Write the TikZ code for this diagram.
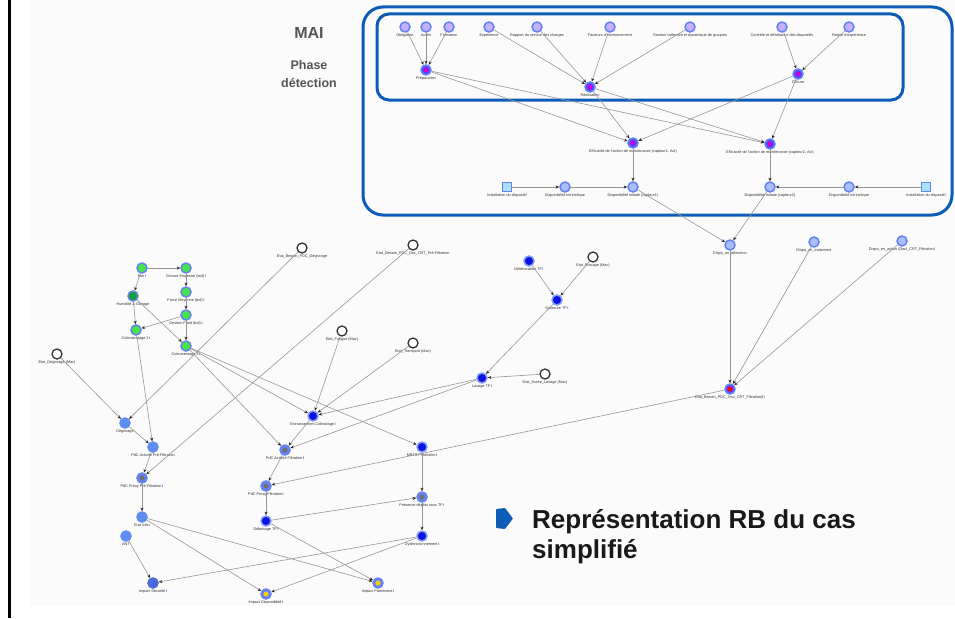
\documentclass[tikz,border=0pt]{standalone}
\usepackage{fontspec}
\setmainfont{Liberation Sans}
\usetikzlibrary{arrows.meta,shapes.geometric}
\definecolor{boxblue}{RGB}{12,92,184}
\definecolor{ringblue}{RGB}{100,130,240}
\definecolor{lavender}{RGB}{196,176,255}
\definecolor{paleblue}{RGB}{170,190,250}
\definecolor{midblue}{RGB}{95,140,240}
\definecolor{deepblue}{RGB}{10,20,225}
\definecolor{secblue}{RGB}{75,105,215}
\definecolor{edgegrey}{RGB}{150,150,150}
\definecolor{labgrey}{RGB}{85,85,85}
\definecolor{greenfill}{RGB}{70,230,70}
\definecolor{darkgreen}{RGB}{20,160,50}
\definecolor{cyanfill}{RGB}{170,225,250}
\definecolor{magfill}{RGB}{200,0,220}
\definecolor{yellowfill}{RGB}{245,205,0}
\definecolor{bgpale}{RGB}{251,251,251}
\definecolor{infoblue}{RGB}{60,90,230}
\newcommand{\infomark}{\,\textcolor{infoblue}{\fontsize{4}{4}\selectfont\bfseries i}}
\tikzset{
  lbl/.style={font=\fontsize{3.8}{4.2}\selectfont, text=black!80, inner sep=0.6pt},
  nd/.style={circle, minimum size=10pt, inner sep=0pt, line width=1.5pt, draw=ringblue},
  lav/.style={nd, fill=lavender},
  pale/.style={nd, fill=paleblue},
  core/.style={path picture={\fill[#1] (path picture bounding box.center) circle (2.6pt);}},
  purp/.style={nd, fill=blue!70, core=magfill},
  redn/.style={nd, fill=blue!70, core=red},
  grn/.style={nd, fill=greenfill},
  dgrn/.style={nd, fill=darkgreen},
  opn/.style={circle, minimum size=10pt, inner sep=0pt, line width=1.3pt, draw=black!80, fill=white},
  dblue/.style={nd, draw=ringblue!80, fill=deepblue},
  solid/.style={nd, draw=midblue, fill=midblue},
  secn/.style={nd, draw=secblue, fill=secblue},
  greyc/.style={nd, fill=ringblue, core=black!55},
  yelc/.style={nd, fill=ringblue, core=yellowfill},
  sqn/.style={rectangle, minimum size=9pt, inner sep=0pt, line width=1pt, draw=ringblue, fill=cyanfill},
  conn/.style={draw=edgegrey, line width=0.6pt, -{Stealth[length=3.6pt,width=3pt,color=black!85]}},
  title/.style={font=\bfseries\fontsize{16}{18}\selectfont, text=labgrey, align=center},
}
\begin{document}
\begin{tikzpicture}[x=1pt,y=-1pt]
\useasboundingbox (0,0) rectangle (955,618);
% drawing area and left rule
\fill[bgpale] (30,0) rectangle (955,606);
\draw[black, line width=2.4pt] (9.5,0) -- (9.5,618);

% frames of the detection phase
\draw[boxblue, line width=3pt, rounded corners=20pt] (363,7) rectangle (952,215);
\draw[boxblue, line width=3pt, rounded corners=12pt] (377,14) rectangle (903,100);
\node[title, anchor=base] (mai) at (309,39) {MAI};
% base anchor of a two-line node sits on its last line
\node[title, anchor=base, font=\bfseries\fontsize{12.5}{18}\selectfont] (phase) at (309,88) {Phase\\détection};

% ---- upper network
\node[lav, label={[lbl]below:Obligation}] (o1) at (405,27) {};
\node[lav, label={[lbl]below:Accès}] (o2) at (426,27) {};
\node[lav, label={[lbl]below:Formation}] (o3) at (449,27) {};
\node[lav, label={[lbl]below:Expérience}] (o4) at (489,27) {};
\node[lav, label={[lbl]below:Rapport du service des charges}] (o5) at (537,27) {};
\node[lav, label={[lbl]below:Facteurs d'environnement}] (o6) at (610,27) {};
\node[lav, label={[lbl]below:Gestion collective et dynamique de groupes}] (o7) at (690,27) {};
\node[lav, label={[lbl]below:Contrôle et défaillance des dispositifs}] (o8) at (782,27) {};
\node[lav, label={[lbl]below:Retour d'expérience}] (o9) at (849,27) {};

\node[purp, label={[lbl]below:Préparation}] (prep) at (426,70) {};
\node[purp, label={[lbl]below:Réalisation}] (real) at (590,87) {};
\node[purp, label={[lbl]below:Clôture}] (clot) at (798,74) {};

\node[purp, label={[lbl]below:Efficacité de l'action de maintenance (capteur1, Act)}] (eff1) at (633,143) {};
\node[purp, label={[lbl]below:Efficacité de l'action de maintenance (capteur2, Act)}] (eff2) at (770,144) {};

\node[sqn, label={[lbl,yshift=-1pt]below:Installation du dispositif}] (inst1) at (507,187) {};
\node[pale, label={[lbl]below:Disponibilité intrinsèque}] (intr1) at (565,187) {};
\node[pale, label={[lbl]below:Disponibilité initiale (capteur1)}] (di1) at (633,187) {};
\node[pale, label={[lbl]below:Disponibilité initiale (capteur2)}] (di2) at (770,187) {};
\node[pale, label={[lbl]below:Disponibilité intrinsèque}] (intr2) at (849,187) {};
\node[sqn, label={[lbl,yshift=-1pt]below:Installation du dispositif}] (inst2) at (926,187) {};

\node[pale, label={[lbl]below:Dispo\_en\_détection}] (detect) at (730,245) {};
\node[pale, label={[lbl]below:Dispo\_en\_traitement}] (trait) at (814,242) {};
\node[pale, label={[lbl]below:Dispo\_en\_action (Decl\_CRT\_Filtration)}] (action) at (902,241) {};
\node[redn, label={[lbl]below:Etat\_Besoin\_PDC\_Osc\_CRT\_Filtration(f)}] (besoinF) at (730,389) {};

% ---- lower network
\node[grn, label={[lbl]below:Mer\infomark}] (mer) at (142,268) {};
\node[grn, label={[lbl]below:Givrure Moyenne (bof)\infomark}] (givr) at (186,268) {};
\node[dgrn, label={[lbl]below:Humidité \& Givrage}] (humid) at (133,296) {};
\node[grn, label={[lbl]below:Force Moyenne (bof)\infomark}] (force) at (186,292) {};
\node[grn, label={[lbl]below:Gestion Froid (bof)\infomark}] (gest) at (186,315) {};
\node[grn, label={[lbl]below:Colmatentage 1\infomark}] (colm1) at (136,330) {};
\node[grn, label={[lbl]below:Colmatentage 2\infomark}] (colm2) at (186,346) {};

\node[opn, label={[lbl]below:Etat\_Dégivrage (Mac)}] (etatdeg) at (57,354) {};
\node[opn, label={[lbl]below:Etat\_Besoin\_PDC\_Dégivrage}] (besoindeg) at (302,248) {};
\node[opn, label={[lbl]below:Etat\_Besoin\_PDC\_Osc\_CRT\_Pré-Filtration}] (besoinpre) at (413,245) {};

\node[solid, label={[lbl]below:Dégivrage}] (degiv) at (125,423) {};
\node[solid, label={[lbl]below:PdC Activité Pré-Filtration}] (actpre) at (153,447) {};
\node[greyc, label={[lbl]below:PdC Proxy Pré-Filtration\infomark}] (proxpre) at (142,478) {};
\node[solid, label={[lbl]below:Etat Vétu}] (vetu) at (142,517) {};
\node[solid, label={[lbl]below:ANT}] (ant) at (126,536) {};
\node[secn, label={[lbl]below:Impact Sécurité\infomark}] (impsec) at (153,583) {};
\node[yelc, label={[lbl]below:Impact Disponibilité\infomark}] (impdisp) at (266,594) {};
\node[yelc, label={[lbl]below:Impact Patrimoine\infomark}] (imppat) at (378,583) {};

\node[opn, label={[lbl]below:Etat\_Fatigue (Mac)}] (fatigue) at (342,331) {};
\node[opn, label={[lbl]below:Etat\_Transport (Mac)}] (transp) at (413,343) {};
\node[dblue, label={[lbl]below:Encrassement Colmatage\infomark}] (encrcol) at (313,416) {};
\node[greyc, label={[lbl]below:PdC Activité Filtration\infomark}] (actf) at (285,450) {};
\node[greyc, label={[lbl]below:PdC Proxy Filtration\infomark}] (proxf) at (266,486) {};
\node[dblue, label={[lbl]below:Débattage TF\infomark}] (debat) at (266,521) {};

\node[dblue, label={[lbl]below:Lavage TF\infomark}] (lavage) at (482,378) {};
\node[opn, label={[lbl]below:Etat\_Durée\_Lavage (Mac)}] (duree) at (545,374) {};
\node[dblue, label={[lbl]below:Détérioration TF\infomark}] (deter) at (529,261) {};
\node[opn, label={[lbl]below:Etat\_Blocage (Mac)}] (blocage) at (593,257) {};
\node[dblue, label={[lbl]below:Salissure TF\infomark}] (saliss) at (557,300) {};

\node[dblue, label={[lbl]below:MBTS Prédiction\infomark}] (mbts) at (422,447) {};
\node[greyc, label={[lbl]below:Présence dépôts sous TF\infomark}] (presence) at (422,497) {};
\node[dblue, label={[lbl]below:Dysfonctionnement\infomark}] (dysf) at (422,536) {};

% ---- connectors, upper network
\foreach \s in {o1,o2,o3} \draw[conn] (\s) -- (prep);
\foreach \s in {o4,o5,o6,o7} \draw[conn] (\s) -- (real);
\foreach \s in {o8,o9} \draw[conn] (\s) -- (clot);
\foreach \s in {prep,real,clot} {\draw[conn] (\s) -- (eff1); \draw[conn] (\s) -- (eff2);}
\draw[conn] (eff1) -- (di1);
\draw[conn] (eff2) -- (di2);
\draw[conn] (inst1) -- (intr1);
\draw[conn] (intr1) -- (di1);
\draw[conn] (inst2) -- (intr2);
\draw[conn] (intr2) -- (di2);
\draw[conn] (di1) -- (detect);
\draw[conn] (di2) -- (detect);
\foreach \s in {detect,trait,action} \draw[conn] (\s) -- (besoinF);
\draw[conn] (besoinF) -- (proxf);

% ---- connectors, lower network
\draw[conn] (mer) -- (givr);
\draw[conn] (mer) -- (humid);
\draw[conn] (givr) -- (force);
\draw[conn] (force) -- (gest);
\draw[conn] (gest) -- (colm1);
\draw[conn] (humid) -- (colm1);
\draw[conn] (humid) -- (colm2);
\draw[conn] (gest) -- (colm2);
\draw[conn] (colm1) -- (actpre);
\draw[conn] (colm2) -- (encrcol);
\draw[conn] (colm2) -- (mbts);
\draw[conn] (colm2) -- (actf);
\draw[conn] (etatdeg) -- (degiv);
\draw[conn] (besoindeg) -- (degiv);
\draw[conn] (degiv) -- (actpre);
\draw[conn] (actpre) -- (proxpre);
\draw[conn] (besoinpre) -- (proxpre);
\draw[conn] (proxpre) -- (vetu);
\draw[conn] (vetu) -- (impdisp);
\draw[conn] (vetu) -- (imppat);
\draw[conn] (ant) -- (impsec);
\draw[conn] (dysf) -- (impsec);
\draw[conn] (dysf) -- (impdisp);
\draw[conn] (debat) -- (imppat);
\draw[conn] (debat) -- (presence);
\draw[conn] (proxf) -- (debat);
\draw[conn] (actf) -- (proxf);
\draw[conn] (encrcol) -- (actf);
\draw[conn] (mbts) -- (presence);
\draw[conn] (presence) -- (dysf);
\draw[conn] (lavage) -- (encrcol);
\draw[conn] (lavage) -- (actf);
\draw[conn] (duree) -- (lavage);
\draw[conn] (deter) -- (saliss);
\draw[conn] (blocage) -- (saliss);
\draw[conn] (saliss) -- (lavage);
\draw[conn] (fatigue) -- (encrcol);
\draw[conn] (transp) -- (encrcol);

% ---- caption with its bullet
\fill[boxblue, rounded corners=0.8pt] (496,509) -- (505,508) -- (513,518.5) -- (505,529) -- (496,528) -- cycle;
\node[anchor=base west, align=left, font=\bfseries\fontsize{26}{30}\selectfont, text=black!90, inner sep=0pt] (caption) at (532,558) {Représentation RB du cas\\simplifié};
\end{tikzpicture}
\end{document}
